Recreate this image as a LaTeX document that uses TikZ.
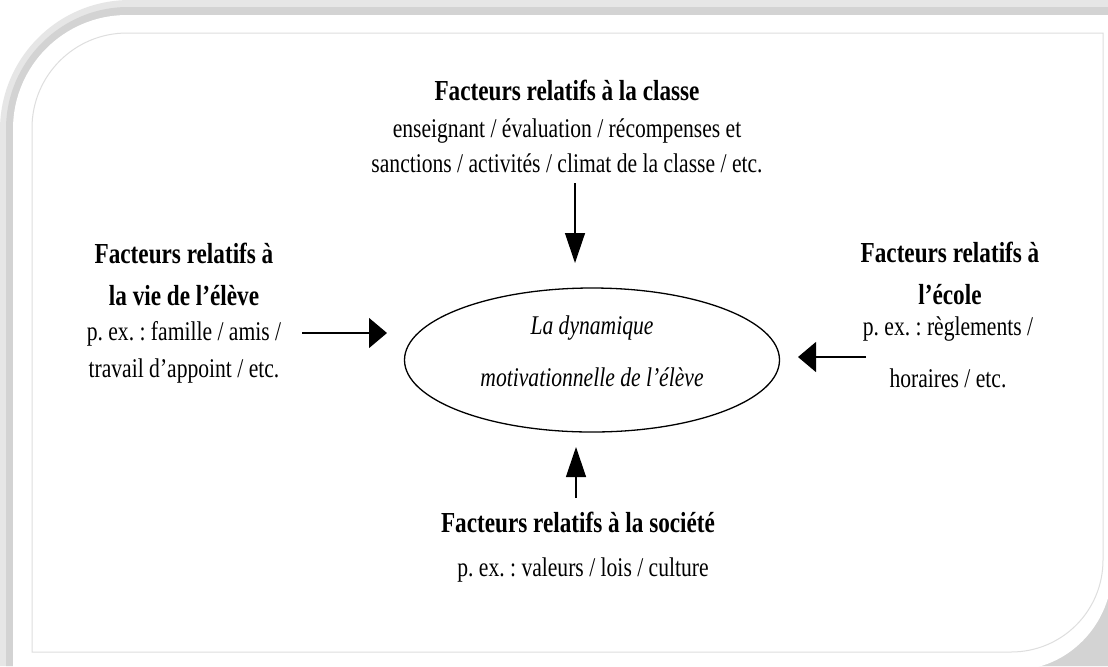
\documentclass[tikz,border=0pt]{standalone}
\usepackage{fontspec}
\setmainfont{Liberation Serif}[FakeStretch=0.8]
\usetikzlibrary{arrows.meta, shapes.geometric}
\definecolor{shadowlight}{HTML}{E6E6E6}
\definecolor{shadowdark}{HTML}{D3D3D3}
\definecolor{cardline}{HTML}{DEDEDE}
\frenchspacing

\begin{document}
\begin{tikzpicture}[
  x=0.5pt, y=-0.5pt,
  factor/.style={font=\bfseries\fontsize{14.5}{21}\selectfont, align=center, inner sep=0pt},
  examples/.style={font=\fontsize{13.5}{#1}\selectfont, align=center, inner sep=0pt},
  examples/.default=18,
  motiv/.style={ellipse, draw, line width=0.65pt, inner sep=0pt, minimum width=187.5pt, minimum height=72pt},
  varrow/.style={-{Triangle[length=15pt, width=10pt]}, line width=0.65pt},
  harrow/.style={-{Triangle[length=9pt, width=15pt]}, line width=0.65pt}
]

% fond, ombre et carte
\useasboundingbox (0,0) rectangle (1108,666);
\fill[white] (0,0) rectangle (1108,666);
\fill[shadowlight] (0,130) .. controls (0,58) and (58,0) .. (130,0) -- (1108,0) -- (1108,666) -- (0,666) -- cycle;
\fill[shadowdark] (6,129) .. controls (6,62) and (61,7) .. (128,7) -- (1108,7) -- (1108,666) -- (6,666) -- cycle;
\fill[white] (13,129) .. controls (13,66) and (64,15) .. (127,15) -- (1112,15) -- (1112,570)
  .. controls (1112,624) and (1068,670) .. (1014,670) -- (13,670) -- cycle;
\draw[cardline, line width=0.5pt] (32,652) -- (32,128) .. controls (32,75.5) and (74.5,33) .. (127,33)
  -- (1103,33) -- (1103,560) .. controls (1103,611) and (1062,652) .. (1011,652) -- cycle;

% centre
\node[motiv] (dyn) at (592,360) {};
\node[examples=26pt, font=\itshape\fontsize{13.5}{26}\selectfont] (dyntxt) at (592,351)
  {La dynamique\\motivationnelle de l’élève};

% facteurs
\node[factor] (classe) at (567,90) {Facteurs relatifs à la classe};
\node[examples=17.5pt] (classeex) at (567,146)
  {enseignant / évaluation / récompenses et\\sanctions / activités / climat de la classe / etc.};

\node[factor] (vie) at (184,274) {Facteurs relatifs à\\la vie de l’élève};
\node[examples=18.5pt] (vieex) at (184,352) {p. ex. : famille / amis /\\travail d’appoint / etc.};

\node[factor] (ecole) at (950,273) {Facteurs relatifs à\\l’école};
\node[examples=26pt] (ecoleex) at (948,352) {p. ex. : règlements /\\horaires / etc.};

\node[factor] (societe) at (578,522) {Facteurs relatifs à la société};
\node[examples] (societeex) at (583,570) {p. ex. : valeurs / lois / culture};

% fleches
\coordinate (tailclasse) at (575,183);
\coordinate (tipclasse) at (575,263);
\coordinate (tailvie) at (302,333);
\coordinate (tipvie) at (387,333);
\coordinate (tailecole) at (866,357);
\coordinate (tipecole) at (798,357);
\coordinate (tailsociete) at (576,498);
\coordinate (tipsociete) at (576,447);

\draw[varrow] (tailclasse) -- (tipclasse);
\draw[harrow] (tailvie) -- (tipvie);
\draw[harrow] (tailecole) -- (tipecole);
\draw[varrow] (tailsociete) -- (tipsociete);

\end{tikzpicture}
\end{document}
